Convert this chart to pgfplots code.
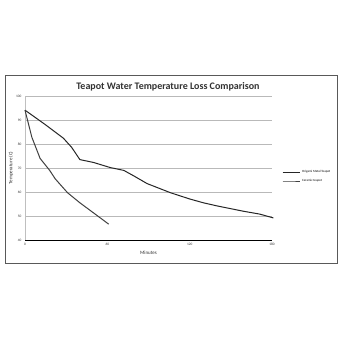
\documentclass[border=0pt]{standalone}
\usepackage{fontspec}
\setmainfont{Carlito}
\usepackage{pgfplots}
\pgfplotsset{compat=1.18}
\begin{document}
\begin{tikzpicture}[x=1pt,y=1pt]
\path[use as bounding box,fill=white] (0,0) rectangle (340,340);
\draw[gray!70!black,line width=0.8pt] (5,77) rectangle (337,265);
\node[font=\fontsize{10}{12}\selectfont\bfseries,text=black!80] at (168,253) {Teapot Water Temperature Loss Comparison};
\begin{axis}[
  at={(25pt,100pt)}, anchor=south west,
  scale only axis, width=247pt, height=144pt,
  xmin=0, xmax=180, ymin=40, ymax=100,
  xtick={0,60,120,180}, ytick={40,50,60,70,80,90,100},
  axis x line*=bottom, axis y line*=left,
  x axis line style={black,line width=0.9pt,-},
  y axis line style={gray!50,line width=0.4pt,-},
  ymajorgrids, grid style={gray!55,line width=0.5pt},
  tick style={draw=none},
  tick label style={font=\fontsize{3.5}{4}\selectfont,text=black!80},
  /pgf/number format/assume math mode=true,
  xlabel={Minutes}, ylabel={Temperature (C)},
  label style={font=\fontsize{5}{6}\selectfont,text=black!80},
  xlabel style={at={(axis description cs:0.5,-0.055)},anchor=north},
  ylabel style={yshift=-4pt},
  legend style={at={(1.04,0.44)},anchor=west,draw=none,fill=none,
    font=\fontsize{3.2}{4}\selectfont,row sep=1pt,inner sep=0pt},
  legend cell align=left,
  clip=false,
]
\addplot[black!85,line width=1pt] coordinates {
(0,94.1) (14,88.4) (28,82.4) (34,78.6) (40,73.5) (50,72.3) (62,70.2) (72,69)
(79,66.8) (89,63.5) (106,59.7) (120,57.1) (130,55.5) (140,54.2) (159,52)
(171,50.8) (181,49.2)};
\addlegendentry{Origami Metal Teapot}
\addplot[black!75,line width=1pt] coordinates {
(0,94.1) (5,82.8) (11,74) (18,69) (22,65.5) (31,59.7) (40,55.5) (53,50) (61,46.6)};
\addlegendentry{Ceramic teapot}
\end{axis}
\end{tikzpicture}
\end{document}
